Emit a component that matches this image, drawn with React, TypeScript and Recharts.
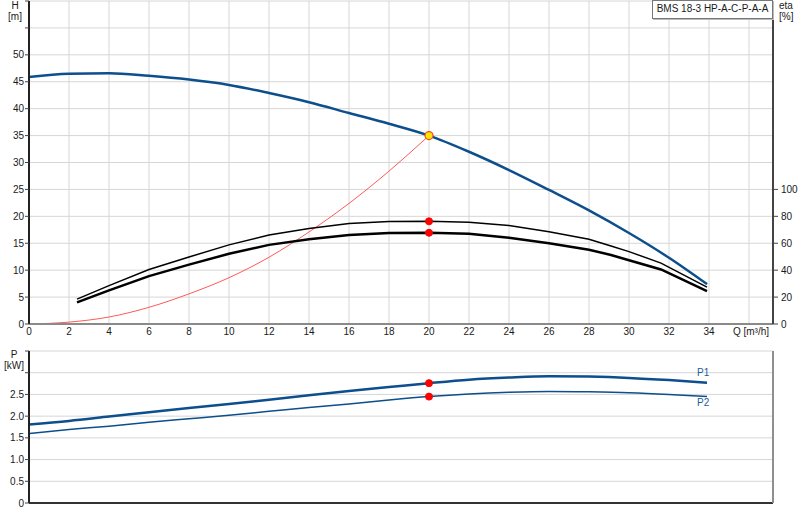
import React from "react";
import {
  LineChart,
  Line,
  XAxis,
  YAxis,
  CartesianGrid,
  ReferenceDot,
} from "recharts";

// ---------- data ----------
const Q_TICKS = [0, 2, 4, 6, 8, 10, 12, 14, 16, 18, 20, 22, 24, 26, 28, 30, 32, 34, 36];
const H_TICKS = [0, 5, 10, 15, 20, 25, 30, 35, 40, 45, 50, 55, 60];
const ETA_TICKS = [0, 20, 40, 60, 80, 100];
const P_TICKS = [0, 0.5, 1.0, 1.5, 2.0, 2.5, 3.0, 3.5];

const H_Q = [0, 2, 4, 6, 8, 10, 12, 14, 16, 18, 20, 22, 24, 26, 28, 30, 32, 33.9];
const H_VALUES = [45.9, 46.5, 46.6, 46.1, 45.4, 44.4, 42.9, 41.2, 39.2, 37.2, 35.0, 32.0, 28.6, 24.9, 21.1, 16.9, 12.3, 7.4];

const SYS_Q = [0, 2, 4, 6, 8, 10, 12, 14, 16, 18, 20];
const SYS_H = [0, 0.35, 1.3, 3.1, 5.6, 8.6, 12.4, 17.1, 22.4, 28.4, 35.0];

const ETA_Q = [2.4, 4, 6, 8, 10, 12, 14, 16, 18, 20, 22, 24, 26, 28, 29.1, 30, 31.6, 33.9];
const ETA_PUMP = [18.5, 28.5, 40.5, 49.8, 58.8, 66.1, 71.0, 74.6, 76.1, 76.3, 75.6, 73.2, 68.5, 62.9, 57.9, 53.8, 45.2, 27.4];
const ETA_TOTAL = [16.1, 25.0, 35.6, 44.1, 52.2, 58.8, 63.0, 66.1, 67.6, 67.8, 67.1, 64.1, 60.0, 55.2, 51.3, 47.4, 40.5, 24.4];

const P_Q = [0, 2, 4, 6, 8, 10, 12, 14, 16, 18, 20, 22, 24, 26, 28, 30, 32, 33.9];
const P1_VALUES = [1.81, 1.89, 1.99, 2.09, 2.19, 2.28, 2.38, 2.48, 2.58, 2.67, 2.76, 2.84, 2.89, 2.92, 2.91, 2.88, 2.83, 2.77];
const P2_VALUES = [1.60, 1.69, 1.77, 1.86, 1.94, 2.02, 2.11, 2.20, 2.28, 2.37, 2.45, 2.51, 2.55, 2.57, 2.56, 2.54, 2.50, 2.45];

const DUTY_Q = 20;
const DUTY_H = 35.0;
const DUTY_ETA_PUMP = 76.3;
const DUTY_ETA_TOTAL = 67.8;
const DUTY_P1 = 2.76;
const DUTY_P2 = 2.45;

const PUMP_NAME = "BMS 18-3 HP-A-C-P-A-A";

// ---------- tables ----------
const hData = H_Q.map((q, i) => ({ q, v: H_VALUES[i] }));
const sysData = SYS_Q.map((q, i) => ({ q, v: SYS_H[i] }));
const etaPumpData = ETA_Q.map((q, i) => ({ q, v: ETA_PUMP[i] }));
const etaTotalData = ETA_Q.map((q, i) => ({ q, v: ETA_TOTAL[i] }));
const p1Data = P_Q.map((q, i) => ({ q, v: P1_VALUES[i] }));
const p2Data = P_Q.map((q, i) => ({ q, v: P2_VALUES[i] }));

const FONT = '"Liberation Sans", Arial, sans-serif';
const TXT = "#1a1a1a";
const BLUE = "#0d4e8c";
const GRID = "#d6d6d6";

const LeftTick = (maxLabel: number, fmt: (v: number) => string) => (props: any) => {
  const { x, y, payload } = props;
  if (payload.value > maxLabel) return <g />;
  return (
    <text x={x} y={y} dy={3.5} textAnchor="end" fontSize={10} fill={TXT} fontFamily={FONT}>
      {fmt(payload.value)}
    </text>
  );
};

const RightTick = (props: any) => {
  const { x, y, payload } = props;
  return (
    <text x={x} y={y} dy={3.5} textAnchor="start" fontSize={10} fill={TXT} fontFamily={FONT}>
      {payload.value}
    </text>
  );
};

const XTick = (props: any) => {
  const { x, y, payload } = props;
  if (payload.value === 36) {
    return (
      <text x={x + 2} y={y} dy={8} textAnchor="middle" fontSize={10} fill={TXT} fontFamily={FONT}>
        Q [m³/h]
      </text>
    );
  }
  return (
    <text x={x} y={y} dy={8} textAnchor="middle" fontSize={10} fill={TXT} fontFamily={FONT}>
      {payload.value}
    </text>
  );
};

const labelStyle: React.CSSProperties = {
  position: "absolute",
  fontFamily: FONT,
  fontSize: 10,
  color: TXT,
  lineHeight: "11px",
  textAlign: "center",
  whiteSpace: "nowrap",
};

export default function App() {
  return (
    <div
      style={{
        position: "absolute",
        left: 0,
        top: 0,
        width: 800,
        height: 520,
        background: "#fff",
        fontFamily: FONT,
        overflow: "hidden",
      }}
    >
      {/* Top chart: H and eta */}
      <div style={{ position: "absolute", left: 0, top: 0 }}>
        <LineChart width={800} height={344} margin={{ top: 1, right: 0, bottom: 0, left: 0 }}>
          <CartesianGrid stroke={GRID} strokeWidth={1} yAxisId="h" />
          <XAxis
            dataKey="q"
            type="number"
            domain={[0, 37.2]}
            ticks={Q_TICKS}
            interval={0}
            allowDataOverflow
            height={20}
            tickLine={false}
            tickSize={0}
            tickMargin={3}
            tick={XTick}
            axisLine={{ stroke: "#8a8a8a", strokeWidth: 2 }}
          />
          <YAxis
            yAxisId="h"
            type="number"
            domain={[0, 60]}
            ticks={H_TICKS}
            interval={0}
            width={29}
            tickSize={4}
            tickMargin={1}
            tick={LeftTick(50, (v) => String(v))}
            tickLine={{ stroke: "#444" }}
            axisLine={{ stroke: "#222", strokeWidth: 2 }}
          />
          <YAxis
            yAxisId="eta"
            orientation="right"
            type="number"
            domain={[0, 240]}
            ticks={ETA_TICKS}
            interval={0}
            width={27}
            tickSize={5}
            tickMargin={3}
            tick={RightTick}
            tickLine={{ stroke: "#444" }}
            axisLine={{ stroke: "#444", strokeWidth: 2 }}
          />
          <Line
            data={sysData}
            dataKey="v"
            yAxisId="h"
            type="monotone"
            stroke="#ff5a5a"
            strokeWidth={1}
            dot={false}
            activeDot={false}
            isAnimationActive={false}
          />
          <Line
            data={etaPumpData}
            dataKey="v"
            yAxisId="eta"
            type="linear"
            stroke="#000"
            strokeWidth={1.5}
            dot={false}
            activeDot={false}
            isAnimationActive={false}
          />
          <Line
            data={etaTotalData}
            dataKey="v"
            yAxisId="eta"
            type="linear"
            stroke="#000"
            strokeWidth={2.5}
            dot={false}
            activeDot={false}
            isAnimationActive={false}
          />
          <Line
            data={hData}
            dataKey="v"
            yAxisId="h"
            type="monotone"
            stroke={BLUE}
            strokeWidth={2.5}
            dot={false}
            activeDot={false}
            isAnimationActive={false}
          />
          <ReferenceDot x={DUTY_Q} y={DUTY_ETA_PUMP} yAxisId="eta" r={3.5} fill="#ff0000" stroke="#ff0000" />
          <ReferenceDot x={DUTY_Q} y={DUTY_ETA_TOTAL} yAxisId="eta" r={3.5} fill="#ff0000" stroke="#ff0000" />
          <ReferenceDot x={DUTY_Q} y={DUTY_H} yAxisId="h" r={4} fill="#ffe600" stroke="#f04a2a" strokeWidth={1.2} />
        </LineChart>
      </div>

      {/* Bottom chart: P1 and P2 */}
      <div style={{ position: "absolute", left: 0, top: 345 }}>
        <LineChart width={800} height={170} margin={{ top: 6, right: 0, bottom: 0, left: 0 }}>
          <CartesianGrid stroke={GRID} strokeWidth={1} yAxisId="p" />
          <XAxis
            dataKey="q"
            type="number"
            domain={[0, 37.2]}
            ticks={Q_TICKS}
            interval={0}
            allowDataOverflow
            height={12}
            tick={false}
            tickLine={false}
            axisLine={{ stroke: "#333", strokeWidth: 2 }}
          />
          <XAxis
            xAxisId="top"
            orientation="top"
            dataKey="q"
            type="number"
            domain={[0, 37.2]}
            ticks={Q_TICKS}
            interval={0}
            height={0}
            tick={false}
            tickLine={false}
            axisLine={{ stroke: "#8f8f8f", strokeWidth: 2 }}
          />
          <YAxis
            yAxisId="p"
            type="number"
            domain={[0, 3.5]}
            ticks={P_TICKS}
            interval={0}
            width={29}
            tickSize={4}
            tickMargin={1}
            tick={LeftTick(2.5, (v) => (v === 0 ? "0" : v.toFixed(1)))}
            tickLine={{ stroke: "#444" }}
            axisLine={{ stroke: "#222", strokeWidth: 2 }}
          />
          <YAxis
            yAxisId="pr"
            orientation="right"
            type="number"
            domain={[0, 3.5]}
            width={27}
            tick={false}
            tickLine={false}
            axisLine={{ stroke: "#8f8f8f", strokeWidth: 2 }}
          />
          <Line
            data={p2Data}
            dataKey="v"
            yAxisId="p"
            type="monotone"
            stroke={BLUE}
            strokeWidth={1.5}
            dot={false}
            activeDot={false}
            isAnimationActive={false}
          />
          <Line
            data={p1Data}
            dataKey="v"
            yAxisId="p"
            type="monotone"
            stroke={BLUE}
            strokeWidth={2.5}
            dot={false}
            activeDot={false}
            isAnimationActive={false}
          />
          <ReferenceDot x={DUTY_Q} y={DUTY_P1} yAxisId="p" r={3.5} fill="#ff0000" stroke="#ff0000" />
          <ReferenceDot x={DUTY_Q} y={DUTY_P2} yAxisId="p" r={3.5} fill="#ff0000" stroke="#ff0000" />
        </LineChart>
      </div>

      {/* Axis titles and labels */}
      <div style={{ ...labelStyle, left: 3, top: 0, width: 24 }}>
        H
        <br />
        [m]
      </div>
      <div style={{ ...labelStyle, left: 779, top: 0, width: 21, textAlign: "left" }}>
        eta
        <br />
        [%]
      </div>
      <div style={{ ...labelStyle, left: 1, top: 349, width: 26 }}>
        P
        <br />
        [kW]
      </div>
      <div style={{ ...labelStyle, left: 697, top: 367, color: "#1f5c99" }}>P1</div>
      <div style={{ ...labelStyle, left: 697, top: 397, color: "#1f5c99" }}>P2</div>
      <div
        style={{
          ...labelStyle,
          left: 652,
          top: 0,
          width: 119,
          height: 17,
          lineHeight: "16px",
          border: "1px solid #777",
          boxShadow: "1px 1px 0 #bbb",
          background: "#fff",
        }}
      >
        {PUMP_NAME}
      </div>
    </div>
  );
}
